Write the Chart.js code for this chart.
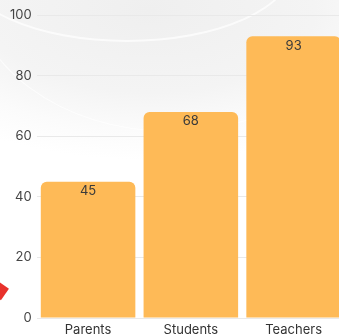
<!DOCTYPE html>
<html>
<head>
<meta charset="utf-8">
<script src="https://cdn.jsdelivr.net/npm/chart.js@4"></script>
<style>
  html, body { margin: 0; padding: 0; }
  body {
    width: 339px; height: 335px; overflow: hidden; position: relative;
    background: radial-gradient(ellipse 300px 150px at 150px 10px, #efefef 0%, #f4f4f4 55%, #fbfbfb 80%, #ffffff 100%);
  }
  .arc {
    position: absolute; border-radius: 50%;
    border: 2px solid rgba(255,255,255,0.7);
  }
  .red {
    position: absolute; left: -6px; top: 284px; width: 12px; height: 14px;
    background: #e8322c; transform: rotate(35deg);
  }
  canvas { display: block; position: absolute; left: 0; top: 0; }
</style>
</head>
<body>
<div class="arc" style="left:-40px; top:-110px; width:330px; height:148px;"></div>
<div class="arc" style="left:-30px; top:-170px; width:400px; height:300px; border-width:1px;"></div>
<div class="red"></div>
<canvas id="chart" width="345" height="335"></canvas>
<script>
const categories = ['Parents', 'Students', 'Teachers'];
const counts = [45, 68, 93];
const yTicks = [0, 20, 40, 60, 80, 100];

// draws each value just inside the top of its bar
const valueLabels = {
  id: 'valueLabels',
  afterDatasetsDraw(chart) {
    const ctx = chart.ctx;
    const meta = chart.getDatasetMeta(0);
    ctx.save();
    ctx.fillStyle = '#3a3a3a';
    ctx.font = '13px Inter, "Noto Sans", sans-serif';
    ctx.textAlign = 'center';
    ctx.textBaseline = 'top';
    meta.data.forEach((bar, i) => {
      ctx.fillText(counts[i], bar.x, bar.y + 3);
    });
    ctx.restore();
  }
};

new Chart(document.getElementById('chart').getContext('2d'), {
  type: 'bar',
  data: {
    labels: categories,
    datasets: [{
      data: counts,
      backgroundColor: '#FEBA57',
      borderRadius: { topLeft: 6, topRight: 6 },
      borderSkipped: 'bottom',
      barPercentage: 0.92,
      categoryPercentage: 1.0
    }]
  },
  options: {
    responsive: false,
    animation: false,
    layout: { padding: { top: 15, right: 0, bottom: 0, left: 5 } },
    plugins: { legend: { display: false }, tooltip: { enabled: false } },
    scales: {
      x: {
        grid: { display: false },
        border: { display: false },
        ticks: { color: '#333', font: { family: 'Inter, "Noto Sans", sans-serif', size: 13, lineHeight: 1 }, padding: -2 }
      },
      y: {
        min: 0,
        max: 100,
        afterBuildTicks: axis => { axis.ticks = yTicks.map(v => ({ value: v })); },
        grid: { color: '#e9e9e9', drawTicks: false },
        border: { display: false },
        ticks: { color: '#444', font: { family: 'Inter, "Noto Sans", sans-serif', size: 13 }, padding: 5 }
      }
    }
  },
  plugins: [valueLabels]
});
</script>
</body>
</html>
